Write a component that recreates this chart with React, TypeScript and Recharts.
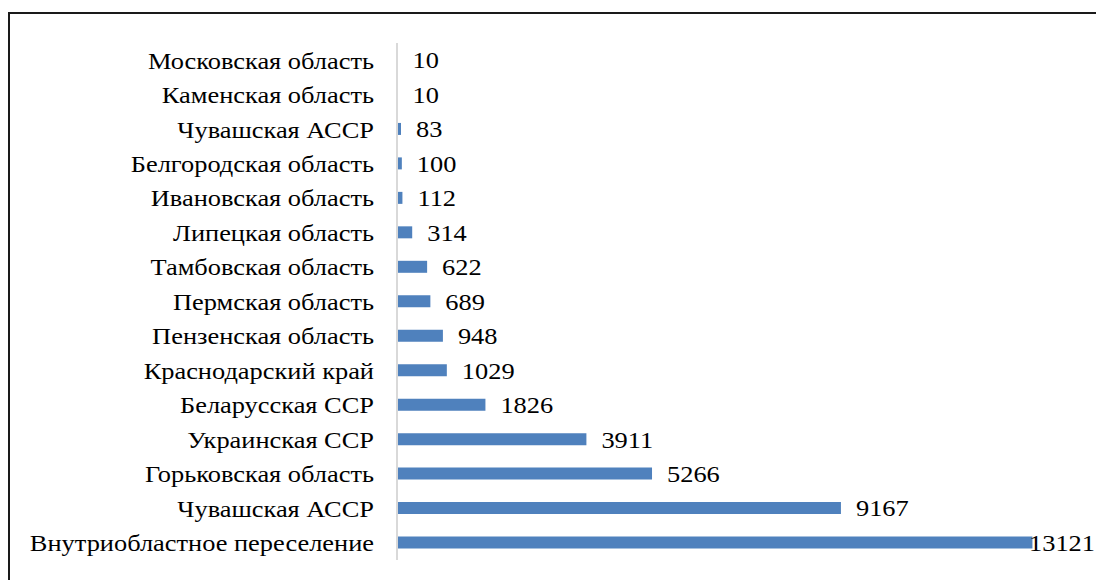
import React from 'react';
import { BarChart, Bar, XAxis, YAxis, LabelList } from 'recharts';

const regions = [
  'Московская область',
  'Каменская область',
  'Чувашская АССР',
  'Белгородская область',
  'Ивановская область',
  'Липецкая область',
  'Тамбовская область',
  'Пермская область',
  'Пензенская область',
  'Краснодарский край',
  'Беларусская ССР',
  'Украинская ССР',
  'Горьковская область',
  'Чувашская АССР ',
  'Внутриобластное переселение',
];

const counts = [10, 10, 83, 100, 112, 314, 622, 689, 948, 1029, 1826, 3911, 5266, 9167, 13121];

const data = regions.map((name, i) => ({ name, value: counts[i] }));

const FONT = "'Liberation Serif', 'Times New Roman', serif";
// source image is stretched a little horizontally
const SX = 1.1;

const stretch = (x: number) => `translate(${x} 0) scale(${SX} 1) translate(${-x} 0)`;

const renderValue = (props: any) => {
  const { x, y, width, height, value } = props;
  // the longest bar's label gets pushed against the bar end, like in the original
  const tx = Math.min(x + width + 15, 1029);
  return (
    <text
      x={tx}
      y={y + height / 2}
      dy="0.35em"
      textAnchor="start"
      fill="#000"
      fontSize={24}
      fontFamily={FONT}
      transform={stretch(tx)}
    >
      {value}
    </text>
  );
};

const RegionTick = (props: any) => {
  const { x, y, payload } = props;
  return (
    <text
      x={x}
      y={y}
      dy="0.35em"
      textAnchor="end"
      fill="#000"
      fontSize={24}
      fontFamily={FONT}
      transform={stretch(x)}
    >
      {payload.value}
    </text>
  );
};

export default function App() {
  return (
    <div style={{ position: 'fixed', left: 0, top: 0, width: 1096, height: 580, background: '#fff', overflow: 'hidden' }}>
      <div
        style={{
          position: 'absolute',
          left: 8,
          top: 12,
          width: 1120,
          height: 620,
          border: '2px solid #1a1a1a',
        }}
      />
      <div style={{ position: 'absolute', left: 0, top: 0 }}>
        <BarChart
          width={1096}
          height={580}
          data={data}
          layout="vertical"
          margin={{ top: 43, right: 21, bottom: 20, left: 0 }}
          barSize={12}
        >
          <XAxis type="number" domain={[0, 14000]} hide />
          <YAxis
            type="category"
            dataKey="name"
            width={397}
            axisLine={{ stroke: '#d9d9d9', strokeWidth: 2 }}
            tickLine={false}
            tickSize={0}
            tickMargin={23}
            interval={0}
            tick={<RegionTick />}
          />
          <Bar dataKey="value" fill="#4f81bd" isAnimationActive={false}>
            <LabelList dataKey="value" content={renderValue} />
          </Bar>
        </BarChart>
      </div>
    </div>
  );
}
